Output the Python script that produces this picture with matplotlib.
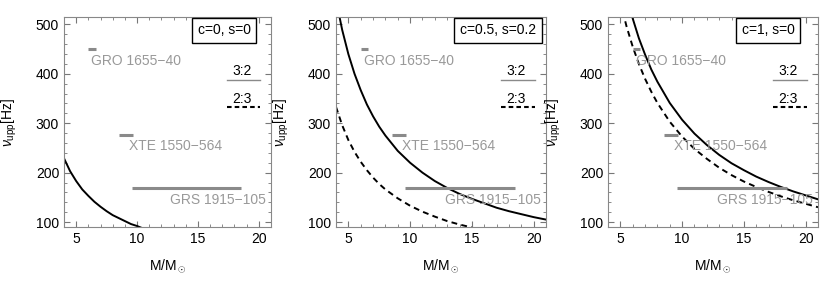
import matplotlib
matplotlib.use("Agg")
import matplotlib.pyplot as plt
from matplotlib.ticker import MultipleLocator

plt.rcParams['font.family'] = ['Liberation Sans', 'DejaVu Sans']
plt.rcParams['mathtext.fontset'] = 'custom'
plt.rcParams['mathtext.rm'] = 'Liberation Sans'
plt.rcParams['mathtext.it'] = 'Liberation Sans:italic'

# panel titles
titles = ["c=0, s=0", "c=0.5, s=0.2", "c=1, s=0"]

# 3:2 curves (solid)
m_32 = [
    [4, 4.5, 5, 5.5, 6, 6.5, 7, 7.5, 8, 8.5, 9, 9.5, 10, 10.5],
    [4, 4.5, 5, 5.5, 6, 6.5, 7, 7.5, 8, 9, 10, 11, 12, 13, 14, 15, 16, 17, 18, 19, 20, 21],
    [5.5, 6, 6.5, 7, 7.5, 8, 9, 10, 11, 12, 13, 14, 15, 16, 17, 18, 19, 20, 21],
]
nu_32 = [
    [229, 203, 183, 166, 153, 141, 131, 122, 114, 108, 102, 96, 92, 87],
    [550, 489, 440, 400, 367, 338, 314, 293, 275, 244, 220, 200, 183, 169, 157, 147, 138, 129, 122, 116, 110, 105],
    [558, 512, 472, 439, 409, 384, 341, 307, 279, 256, 236, 219, 205, 192, 181, 171, 162, 154, 146],
]

# 2:3 curves (dashed); none visible in the first panel
m_23 = [
    [],
    [4, 4.5, 5, 5.5, 6, 6.5, 7, 7.5, 8, 9, 10, 11, 12, 13, 14, 15],
    [5, 5.5, 6, 6.5, 7, 7.5, 8, 9, 10, 11, 12, 13, 14, 15, 16, 17, 18, 19, 20, 21],
]
nu_23 = [
    [],
    [333, 296, 266, 242, 222, 205, 190, 177, 166, 148, 133, 121, 111, 102, 95, 89],
    [546, 496, 455, 420, 390, 364, 341, 303, 273, 248, 228, 210, 195, 182, 171, 161, 152, 144, 137, 130],
]

# observed sources: mass range and frequency
src_names = ["GRO 1655\u221240", "XTE 1550\u2212564", "GRS 1915\u2212105"]
src_mmin = [6.0, 8.5, 9.6]
src_mmax = [6.6, 9.7, 18.5]
src_nu = [450, 276, 168]

gray = "#8a8a8a"
axes_rects = [
    [64 / 830, 71 / 298, 207 / 830, 210 / 298],
    [336 / 830, 71 / 298, 210 / 830, 210 / 298],
    [608 / 830, 71 / 298, 210 / 830, 210 / 298],
]
box_x = [0.773, 0.771, 0.762]

fig = plt.figure(figsize=(8.3, 2.98), dpi=100)

for i in range(3):
    ax = fig.add_axes(axes_rects[i])

    ax.plot(m_32[i], nu_32[i], color="black", lw=1.4)
    if m_23[i]:
        ax.plot(m_23[i], nu_23[i], color="black", lw=1.4, ls=(0, (3, 2.2)))

    for name, m0, m1, nu in zip(src_names, src_mmin, src_mmax, src_nu):
        ax.plot([m0, m1], [nu, nu], color=gray, lw=2.2, solid_capstyle="butt")
    ax.text(6.25, 425, src_names[0], color="#999999", fontsize=10, va="center", ha="left")
    ax.text(9.35, 253, src_names[1], color="#999999", fontsize=10, va="center", ha="left")
    ax.text(20.6, 144, src_names[2], color="#999999", fontsize=10, va="center", ha="right")

    # legend
    ax.text(18.6, 405, "3:2", fontsize=10, ha="center", va="center")
    ax.plot([17.35, 20.1], [387, 387], color=gray, lw=1.0)
    ax.text(18.6, 350, "2:3", fontsize=10, ha="center", va="center")
    ax.plot([17.35, 20.1], [332, 332], color="black", lw=1.5, ls=(0, (2.2, 1.5)))

    ax.text(box_x[i], 0.936, titles[i], transform=ax.transAxes, fontsize=10,
            ha="center", va="center",
            bbox=dict(boxstyle="square,pad=0.4", fc="white", ec="black", lw=1.0))

    ax.set_xlim(4, 21)
    ax.set_ylim(90, 515)
    ax.xaxis.set_major_locator(MultipleLocator(5))
    ax.xaxis.set_minor_locator(MultipleLocator(1))
    ax.yaxis.set_major_locator(MultipleLocator(100))
    ax.yaxis.set_minor_locator(MultipleLocator(20))
    ax.tick_params(which="both", direction="in", top=True, right=True,
                   color="#777777", labelsize=10)
    ax.tick_params(which="major", length=4, width=0.8)
    ax.tick_params(which="minor", length=2, width=0.6)
    for sp in ax.spines.values():
        sp.set_color("#888888")
        sp.set_linewidth(0.8)

    ax.set_xlabel(r"M/M$_\odot$", fontsize=10)
    ax.set_ylabel(r"$\nu_{\rm upp}$[Hz]", fontsize=10)
    ax.yaxis.set_label_coords(-0.215, 0.5)
    ax.xaxis.set_label_coords(0.5, -0.145)

fig.savefig("out.png", dpi=100)
